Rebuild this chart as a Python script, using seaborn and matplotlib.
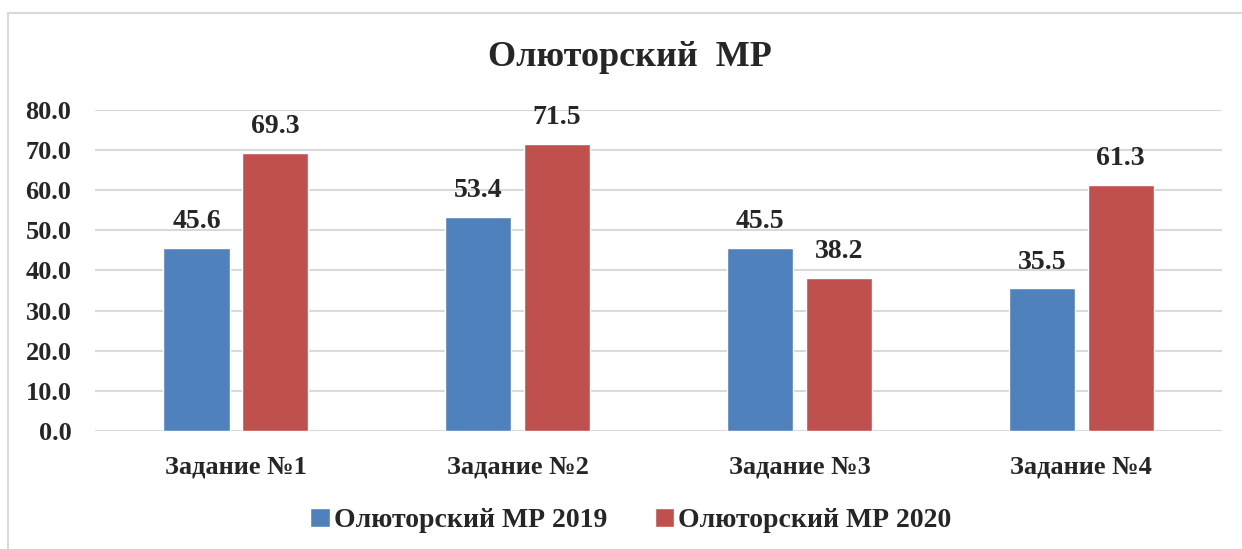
import matplotlib
matplotlib.use("Agg")
import matplotlib.pyplot as plt
import seaborn as sns
import pandas as pd
from matplotlib.patches import Rectangle

categories = ["Задание №1", "Задание №2", "Задание №3", "Задание №4"]
series_names = ["Олюторский МР 2019", "Олюторский МР 2020"]
values_2019 = [45.6, 53.4, 45.5, 35.5]
values_2020 = [69.3, 71.5, 38.2, 61.3]
title = "Олюторский  МР"

df = pd.DataFrame({
    "cat": categories * 2,
    "series": [series_names[0]] * 4 + [series_names[1]] * 4,
    "val": values_2019 + values_2020,
})

sns.set_style("white")
plt.rcParams['font.family'] = ['Liberation Serif', 'DejaVu Serif']
plt.rcParams['font.weight'] = 'bold'

fig = plt.figure(figsize=(12.42, 5.49), dpi=100)
ax = fig.add_axes([0.0765, 0.215, 0.9075, 0.585])

sns.barplot(data=df, x="cat", y="val", hue="series", order=categories,
            hue_order=series_names, palette=["#4F81BD", "#C0504D"],
            width=0.56, gap=0.16, saturation=1, ax=ax, legend=True)

ax.set_ylim(0, 80)
ax.set_yticks(range(0, 81, 10))
ax.set_yticklabels([f"{v:.1f}" for v in range(0, 81, 10)], fontsize=19, fontweight='bold')
ax.set_xticklabels(categories, fontsize=19, fontweight='bold')
ax.tick_params(axis='y', length=0, pad=17)
ax.tick_params(axis='x', length=0, pad=18)
ax.set_xlabel("")
ax.set_ylabel("")
ax.set_xlim(-0.5, 3.5)
ax.grid(axis='y', color='#D9D9D9', linewidth=1.5)
ax.set_axisbelow(True)
for s in ax.spines.values():
    s.set_visible(False)

for cont in ax.containers:
    ax.bar_label(cont, fmt='%.1f', padding=10, fontsize=20, fontweight='bold')

handles, labels = ax.get_legend_handles_labels()
ax.legend_.remove()
fig.legend(handles, labels, loc='center', bbox_to_anchor=(0.508, 0.052), ncol=2,
           frameon=False, prop={'size': 20, 'weight': 'bold'},
           handlelength=0.7, handleheight=0.7, handletextpad=0.15, columnspacing=1.7)

fig.text(0.507, 0.895, title, ha='center', va='center', fontsize=26, fontweight='bold')

fig.patches.append(Rectangle((8 / 1242, -0.05), 1.2, 1 - 13 / 549 + 0.05,
                             transform=fig.transFigure, fill=False,
                             edgecolor='#D9D9D9', linewidth=1.5, zorder=0))

fig.savefig("out.png", dpi=100, facecolor='white')
